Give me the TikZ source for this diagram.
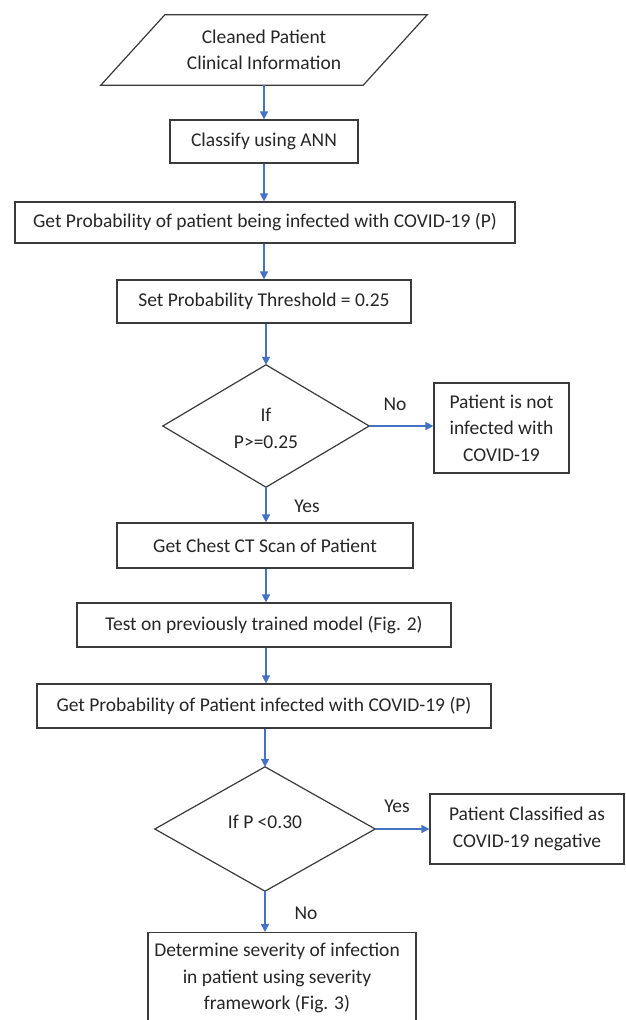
\documentclass[tikz,border=0pt]{standalone}
\usepackage{fontspec}
\setmainfont{Carlito}
\usetikzlibrary{arrows.meta,calc}
\definecolor{arrowblue}{HTML}{4472C4}
\definecolor{edgegray}{HTML}{3A3A3A}
\tikzset{
  txt/.style={font=\fontsize{19.5}{26.5}\selectfont, align=center, inner sep=0pt, text=black!85},
  box/.style={txt, draw=edgegray, line width=1.2pt, inner sep=0pt},
  ghost/.style={txt, inner sep=0pt},
  shapeline/.style={draw=edgegray, line width=1.2pt, line join=miter},
  flow/.style={draw=arrowblue, line width=1.5pt, -{Triangle[length=8pt,width=8pt]}},
  lbl/.style={txt}
}
\begin{document}
\begin{tikzpicture}[x=1pt,y=-1pt]
\useasboundingbox (0,0) rectangle (625,1020);

% input parallelogram
\node[ghost, minimum width=326pt, minimum height=70pt] (in) at (264,50) {Cleaned Patient\\Clinical Information};
\draw[shapeline] ($(in.north west)+(64,0)$) -- (in.north east) -- ($(in.south east)+(-64,0)$) -- (in.south west) -- cycle;

\node[box, minimum width=188pt, minimum height=43pt] (cls) at (264,141.5) {Classify using ANN};
\node[box, minimum width=500pt, minimum height=41pt] (gp1) at (265,222.5) {Get Probability of patient being infected with COVID-19 (P)};
\node[box, minimum width=294pt, minimum height=43pt] (set) at (264,301.5) {Set Probability Threshold = 0.25};

% decision 1
\node[ghost, minimum width=206pt, minimum height=122pt] (d1) at (266,426) {};
\node[txt] (d1t) at (266,428.5) {If\\P>=0.25};
\draw[shapeline] (d1.north) -- (d1.east) -- (d1.south) -- (d1.west) -- cycle;

\node[box, minimum width=135pt, minimum height=90pt] (not1) at (501.5,428) {Patient is not\\infected with\\COVID-19};

\node[box, minimum width=296pt, minimum height=45pt] (chest) at (265,545.5) {Get Chest CT Scan of Patient};
\node[box, minimum width=374pt, minimum height=44pt] (test) at (264,625) {Test on previously trained model (Fig. 2)};
\node[box, minimum width=454pt, minimum height=44pt] (gp2) at (264,706) {Get Probability of Patient infected with COVID-19 (P)};

% decision 2
\node[ghost, minimum width=220pt, minimum height=124pt] (d2) at (265,829) {};
\node[txt] (d2t) at (265,822) {If P <0.30};
\draw[shapeline] (d2.north) -- (d2.east) -- (d2.south) -- (d2.west) -- cycle;

\node[box, minimum width=194pt, minimum height=70pt] (neg) at (527,829) {Patient Classified as\\COVID-19 negative};

\node[box, minimum width=268pt, minimum height=118pt, anchor=north] (sev) at (282,932) {};
\node[txt] (sevt) at (277,978) {Determine severity of infection\\in patient using severity\\framework (Fig. 3)};

% connectors
\draw[flow] (in.south) -- (cls.north);
\draw[flow] (cls.south) -- (cls.south |- gp1.north);
\draw[flow] (gp1.south -| cls.south) -- (cls.south |- set.north);
\draw[flow] (set.south -| d1.north) -- (d1.north);
\draw[flow] (d1.east) -- (d1.east -| not1.west);
\draw[flow] (d1.south) -- (d1.south |- chest.north);
\draw[flow] (chest.south -| d1.south) -- (d1.south |- test.north);
\draw[flow] (test.south -| d1.south) -- (d1.south |- gp2.north);
\draw[flow] (gp2.south -| d2.north) -- (d2.north);
\draw[flow] (d2.east) -- (d2.east -| neg.west);
\draw[flow] (d2.south) -- (d2.south |- sev.north);

% labels
\node[lbl] (no1) at (395,404) {No};
\node[lbl] (yes1) at (307,506) {Yes};
\node[lbl] (yes2) at (397,806) {Yes};
\node[lbl] (no2) at (306,913) {No};
\end{tikzpicture}
\end{document}
